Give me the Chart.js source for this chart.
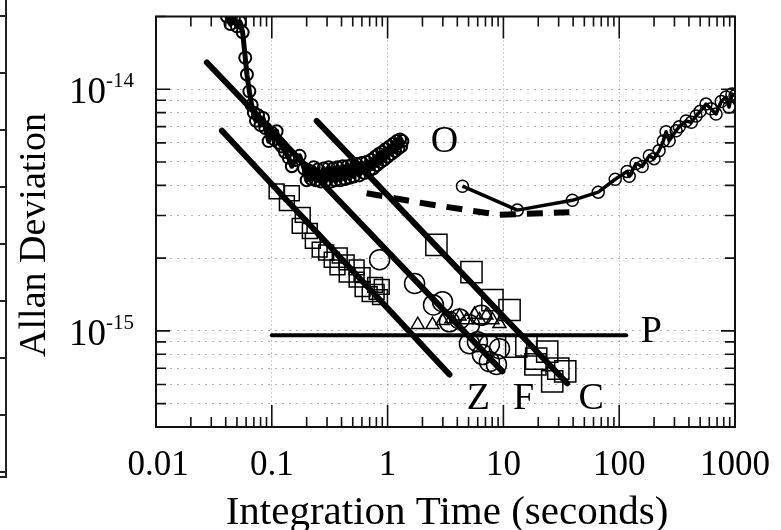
<!DOCTYPE html>
<html>
<head>
<meta charset="utf-8">
<script src="https://cdn.jsdelivr.net/npm/chart.js@4.4.0/dist/chart.umd.min.js"></script>
<style>
    html, body { margin: 0; padding: 0; background: #fff; }
    #wrap { position: relative; width: 781px; height: 530px; }
    #pageEdge {
        position: absolute; left: 0; top: 0; width: 5px; height: 476px;
        border-right: 2px solid #222; border-bottom: 2px solid #222;
        background: repeating-linear-gradient(to bottom, transparent 0 15px, #222 15px 17px, transparent 17px 57px);
    }
</style>
</head>
<body>
<div id="wrap">
    <canvas id="allanCanvas" width="781" height="530"></canvas>
    <div id="pageEdge"></div>
</div>
<script>
/* eslint-disable no-undef */

// axis ticks
const xTickValues = [0.01, 0.1, 1, 10, 100, 1000];
const xTickLabels = ['0.01', '0.1', '1', '10', '100', '1000'];
const yLabelValues = [1e-14, 1e-15];
const yLabelExponents = ['-14', '-15'];
const yGridValues = [4e-16, 5e-16, 6e-16, 7e-16, 8e-16, 9e-16, 1e-15,
    2e-15, 3e-15, 4e-15, 5e-15, 6e-15, 7e-15, 8e-15, 9e-15, 1e-14, 2e-14];

// "O" curve, short taus (small circles, very dense)
const oShortTau = [0.038, 0.041, 0.044, 0.047, 0.050, 0.053, 0.056, 0.059, 0.061, 0.064,
    0.067, 0.070, 0.073, 0.076, 0.080, 0.084, 0.088, 0.094, 0.100, 0.105,
    0.110, 0.115, 0.122, 0.130, 0.140, 0.149, 0.160, 0.174, 0.190, 0.200,
    0.210, 0.220, 0.230, 0.240, 0.250, 0.265, 0.280, 0.295, 0.310, 0.325,
    0.340, 0.355, 0.370, 0.390, 0.410, 0.430, 0.450, 0.470, 0.490, 0.510,
    0.540, 0.570, 0.600, 0.630, 0.660, 0.690, 0.720, 0.750, 0.780, 0.810,
    0.840, 0.870, 0.900, 0.930, 0.960, 1.00, 1.04, 1.08, 1.12, 1.16,
    1.20, 1.24, 1.28, 1.31, 1.34];
const oShortDev = [2.3e-14, 2.0e-14, 1.86e-14, 1.97e-14, 1.82e-14, 1.9e-14, 1.72e-14, 1.35e-14, 1.15e-14, 9.8e-15,
    8.6e-15, 8.0e-15, 7.4e-15, 7.8e-15, 7.1e-15, 7.6e-15, 6.9e-15, 6.1e-15, 6.6e-15, 6.2e-15,
    6.7e-15, 6.0e-15, 5.8e-15, 5.5e-15, 5.2e-15, 4.8e-15, 5.1e-15, 5.3e-15, 4.7e-15, 4.2e-15,
    4.6e-15, 4.25e-15, 4.75e-15, 4.2e-15, 4.65e-15, 4.15e-15, 4.7e-15, 4.2e-15, 4.75e-15, 4.15e-15,
    4.7e-15, 4.2e-15, 4.75e-15, 4.2e-15, 4.8e-15, 4.25e-15, 4.8e-15, 4.3e-15, 4.85e-15, 4.35e-15,
    4.9e-15, 4.4e-15, 4.95e-15, 4.5e-15, 5.0e-15, 4.6e-15, 5.1e-15, 4.7e-15, 5.25e-15, 4.85e-15,
    5.4e-15, 5.0e-15, 5.5e-15, 5.1e-15, 5.65e-15, 5.25e-15, 5.8e-15, 5.4e-15, 5.95e-15, 5.55e-15,
    6.1e-15, 5.7e-15, 6.2e-15, 5.8e-15, 6.1e-15];

// "O" curve, long taus
const oLongTau = [4.43, 13.2, 39.4, 65.9, 92.4, 117, 122, 140, 158, 182,
    200, 221, 240, 254, 270, 310, 330, 378, 420, 461,
    500, 562, 620, 686, 760, 836, 888, 942, 1000];
const oLongDev = [3.97e-15, 3.16e-15, 3.47e-15, 3.75e-15, 4.24e-15, 4.57e-15, 4.36e-15, 4.93e-15, 4.79e-15, 5.31e-15,
    5.16e-15, 5.57e-15, 6.1e-15, 6.67e-15, 6.12e-15, 6.73e-15, 7.0e-15, 7.39e-15, 7.3e-15, 7.75e-15,
    8.1e-15, 8.68e-15, 8.3e-15, 7.9e-15, 8.9e-15, 9.28e-15, 8.44e-15, 9.55e-15, 9.4e-15];

// dashed thick curve
const dashTau = [0.659, 2.29, 9.2, 37.1];
const dashDev = [3.71e-15, 3.34e-15, 3.02e-15, 3.1e-15];

// tau^-1/2 lines
const lineFTau = [0.0275, 9.8];
const lineFDev = [1.29e-14, 6.8e-16];
const lineZTau = [0.0371, 3.42];
const lineZDev = [6.73e-15, 6.6e-16];
const lineCTau = [0.244, 35.5];
const lineCDev = [7.4e-15, 6.07e-16];

// flat "P" line
const linePTau = [0.1, 115];
const linePDev = [9.6e-16, 9.6e-16];

// small squares (Z)
const zSquareTau = [0.110, 0.135, 0.149, 0.174, 0.185, 0.213, 0.226, 0.259, 0.295, 0.329,
    0.369, 0.386, 0.443, 0.443, 0.540, 0.540, 0.608, 0.608, 0.700, 0.780,
    0.804, 0.860, 0.890];
const zSquareDev = [3.78e-15, 3.38e-15, 3.71e-15, 2.72e-15, 3.02e-15, 2.59e-15, 2.36e-15, 2.17e-15, 2.11e-15, 1.97e-15,
    1.83e-15, 2.05e-15, 1.92e-15, 1.71e-15, 1.83e-15, 1.63e-15, 1.70e-15, 1.49e-15, 1.42e-15, 1.55e-15,
    1.45e-15, 1.38e-15, 1.52e-15];

// large squares (C)
const cSquareTau = [2.64, 5.30, 8.04, 11.3, 12.9, 15.8, 18.9, 19.2, 23.9, 26.4, 29.8, 34.2];
const cSquareDev = [2.27e-15, 1.75e-15, 1.34e-15, 1.22e-15, 8.6e-16, 8.7e-16, 7.26e-16, 7.67e-16, 8.2e-16, 6.18e-16, 6.98e-16, 6.79e-16];

// large circles (F)
const fCircleTau = [0.853, 1.71, 2.49, 2.98, 3.42, 4.18, 5.09, 5.09, 5.97, 6.46, 6.59, 7.57, 7.57, 8.71, 9.25];
const fCircleDev = [1.97e-15, 1.57e-15, 1.28e-15, 1.32e-15, 1.09e-15, 1.12e-15, 1.06e-15, 8.85e-16, 9.02e-16, 1.16e-15, 7.98e-16, 8.77e-16, 7.46e-16, 7.26e-16, 8.44e-16];

// triangles (along P)
const triTau = [1.82, 2.44, 2.98, 3.56, 4.18, 4.80, 5.62, 6.21, 7.13, 8.04, 9.25];
const triDev = [1.06e-15, 1.06e-15, 1.10e-15, 1.12e-15, 1.15e-15, 1.11e-15, 1.17e-15, 1.11e-15, 1.16e-15, 1.11e-15, 1.07e-15];

// curve letters
const letterText = ['O', 'P', 'Z', 'F', 'C'];
const letterTau = [3.1, 189, 6.09, 14.9, 57.4];
const letterDev = [6.07e-15, 9.9e-16, 5.21e-16, 5.21e-16, 5.21e-16];

const serif = "'Liberation Serif', 'Times New Roman', serif";

function pairUp(xs, ys) {
    let out = [];
    for (let i = 0; i < xs.length; i++) {
        out.push({ x: xs[i], y: ys[i] });
    }
    return out;
}

function fitLine(xs, ys, width) {
    return {
        data: pairUp(xs, ys),
        borderColor: '#000',
        borderWidth: width,
        borderCapStyle: 'round',
        pointRadius: 0,
        showLine: true
    };
}

function markers(xs, ys, style, radius) {
    return {
        data: pairUp(xs, ys),
        showLine: false,
        pointStyle: style,
        pointRadius: radius,
        pointBorderColor: '#000',
        pointBackgroundColor: 'rgba(0,0,0,0)',
        pointBorderWidth: 1.5
    };
}

// frame, inward ticks, labels and letters
const axisDecor = {
    id: 'axisDecor',
    afterDraw(chart) {
        const ctx = chart.ctx;
        const area = chart.chartArea;
        const xs = chart.scales.x;
        const ys = chart.scales.y;
        ctx.save();
        ctx.strokeStyle = '#111';
        ctx.lineWidth = 2;
        ctx.strokeRect(area.left, area.top, area.right - area.left, area.bottom - area.top);

        ctx.lineWidth = 1.6;
        ctx.beginPath();
        for (let k = -2; k <= 2; k++) {
            for (let m = 1; m <= 9; m++) {
                let px = xs.getPixelForValue(m * Math.pow(10, k));
                let len = m === 1 ? 22 : 10;
                ctx.moveTo(px, area.bottom);
                ctx.lineTo(px, area.bottom - len);
                ctx.moveTo(px, area.top);
                ctx.lineTo(px, area.top + len);
            }
        }
        for (let v of yGridValues) {
            let py = ys.getPixelForValue(v);
            let len = yLabelValues.includes(v) ? 14 : 10;
            ctx.moveTo(area.left, py);
            ctx.lineTo(area.left + len, py);
            ctx.moveTo(area.right, py);
            ctx.lineTo(area.right - len, py);
        }
        ctx.stroke();

        ctx.fillStyle = '#000';
        ctx.textAlign = 'center';
        ctx.textBaseline = 'middle';
        ctx.font = '35px ' + serif;
        for (let i = 0; i < xTickValues.length; i++) {
            ctx.fillText(xTickLabels[i], xs.getPixelForValue(xTickValues[i]) + (i === 0 ? 2 : 0), area.bottom + 39);
        }

        ctx.textBaseline = 'alphabetic';
        for (let i = 0; i < yLabelValues.length; i++) {
            let py = ys.getPixelForValue(yLabelValues[i]);
            ctx.font = '21px ' + serif;
            let supW = ctx.measureText(yLabelExponents[i]).width;
            let right = area.left - 22;
            ctx.textAlign = 'right';
            ctx.fillText(yLabelExponents[i], right, py - 2);
            ctx.font = '37px ' + serif;
            ctx.fillText('10', right - supW, py + 14);
        }

        ctx.textAlign = 'center';
        ctx.textBaseline = 'middle';
        ctx.font = '41px ' + serif;
        ctx.fillText('Integration Time (seconds)', 447, area.bottom + 86);
        ctx.font = '38px ' + serif;
        ctx.save();
        ctx.translate(35, 235);
        ctx.rotate(-Math.PI / 2);
        ctx.fillText('Allan Deviation', 0, 0);
        ctx.restore();

        for (let i = 0; i < letterText.length; i++) {
            ctx.fillText(letterText[i], xs.getPixelForValue(letterTau[i]), ys.getPixelForValue(letterDev[i]));
        }
        ctx.restore();
    }
};

let allanChart = new Chart(document.getElementById('allanCanvas').getContext('2d'), {
    type: 'line',
    data: {
        datasets: [
            fitLine(lineFTau, lineFDev, 6),
            fitLine(lineZTau, lineZDev, 6),
            fitLine(lineCTau, lineCDev, 6),
            fitLine(linePTau, linePDev, 4),
            Object.assign(fitLine(dashTau, dashDev, 6), { borderDash: [16, 11], borderCapStyle: 'butt' }),
            Object.assign(markers(oShortTau, oShortDev, 'circle', 6), { showLine: true, borderColor: '#000', borderWidth: 5, borderJoinStyle: 'round', pointBorderWidth: 2 }),
            Object.assign(markers(oLongTau, oLongDev, 'circle', 6), { showLine: true, borderColor: '#000', borderWidth: 3.5, borderJoinStyle: 'round' }),
            markers(zSquareTau, zSquareDev, 'rect', 10.5),
            markers(cSquareTau, cSquareDev, 'rect', 15),
            markers(fCircleTau, fCircleDev, 'circle', 10),
            markers(triTau, triDev, 'triangle', 7.5)
        ]
    },
    plugins: [axisDecor],
    options: {
        responsive: false,
        animation: false,
        devicePixelRatio: 1,
        layout: { padding: { top: 10, right: 46, left: 0, bottom: 0 } },
        elements: { line: { tension: 0 } },
        plugins: {
            legend: { display: false },
            tooltip: { enabled: false }
        },
        scales: {
            x: {
                type: 'logarithmic',
                min: 0.01,
                max: 1000,
                ticks: { display: false },
                grid: { color: 'rgba(0,0,0,0.4)', lineWidth: 1, drawTicks: false },
                border: { display: false, dash: [1, 3] },
                afterBuildTicks: function (scale) {
                    scale.ticks = xTickValues.map(function (v) { return { value: v }; });
                },
                afterFit: function (scale) { scale.height = 103; }
            },
            y: {
                type: 'logarithmic',
                min: 4e-16,
                max: 2e-14,
                ticks: { display: false },
                grid: { color: 'rgba(0,0,0,0.3)', lineWidth: 1, drawTicks: false },
                border: { display: false, dash: [2, 5] },
                afterBuildTicks: function (scale) {
                    scale.ticks = yGridValues.map(function (v) { return { value: v }; });
                },
                afterFit: function (scale) { scale.width = 156; }
            }
        }
    }
});
</script>
</body>
</html>
